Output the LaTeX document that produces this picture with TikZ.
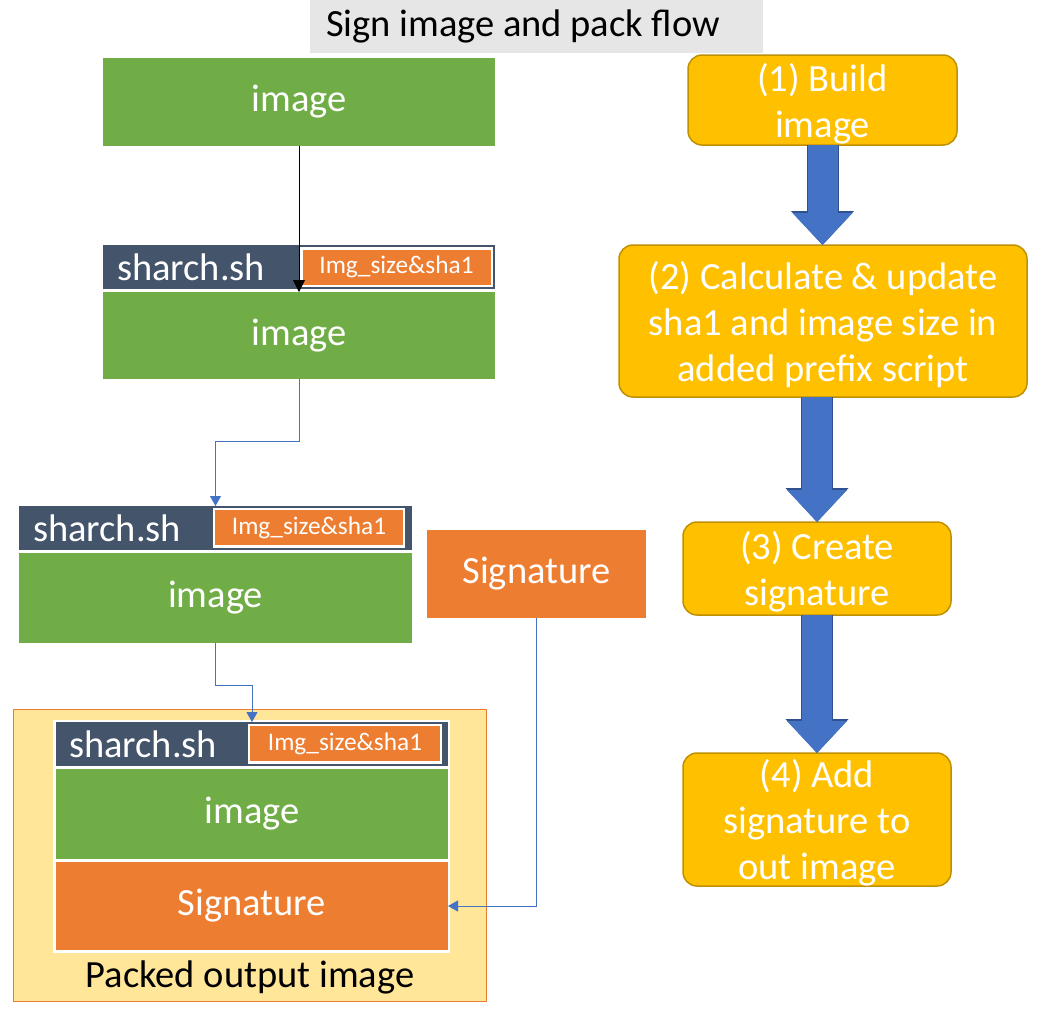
\documentclass[tikz,border=0pt]{standalone}
\usepackage{fontspec}
\setmainfont{Carlito}
\usetikzlibrary{arrows.meta,calc}
\definecolor{imggreen}{HTML}{70AD47}
\definecolor{sigorange}{HTML}{ED7D31}
\definecolor{shslate}{HTML}{44546A}
\definecolor{stepyellow}{HTML}{FFC000}
\definecolor{stepedge}{HTML}{BF9000}
\definecolor{flowblue}{HTML}{4472C4}
\definecolor{flowedge}{HTML}{2F528F}
\definecolor{packfill}{HTML}{FFE699}
\definecolor{titlegrey}{HTML}{E7E6E6}

\begin{document}
\begin{tikzpicture}[x=1pt, y=-1pt,
		blk/.style={inner sep=0pt, outer sep=0pt, text=white, font=\fontsize{38.5}{46}\selectfont},
		imgbox/.style={blk, fill=imggreen, minimum width=392pt, minimum height=88pt},
		shbar/.style={blk, fill=shslate, minimum width=392pt, minimum height=44pt},
		shtext/.style={blk, anchor=west},
		tagbox/.style={blk, fill=sigorange, draw=white, line width=2.5pt, minimum width=190pt, minimum height=37.5pt, font=\fontsize{25.3}{28}\selectfont},
		sigbox/.style={blk, fill=sigorange, minimum height=88pt},
		stepbox/.style={blk, fill=stepyellow, draw=stepedge, line width=1.5pt, rounded corners=14pt, align=center, text depth=0pt},
		conn/.style={draw=flowblue, line width=0.8pt, -{Triangle[width=11pt,length=10pt]}},
		bigedge/.style={draw=flowedge, line width=32pt, -{Triangle[width=63pt,length=34pt,line width=0pt]}},
		bigarrow/.style={draw=flowblue, line width=30pt, -{Triangle[width=60pt,length=32pt,line width=0pt]}}
	]
			%%%%% START %%%%%
			\useasboundingbox (0,0) rectangle (1060,1010);
			
			\node[blk, fill=titlegrey, minimum width=453pt, minimum height=53pt] (title) at (536.5,26.5) {};
			\node[blk, text=black, anchor=west] (titlet) at (326,26.5) {Sign image and pack flow};
			
			% left column
			\node[imgbox] (img1) at (299,102) {image};
			
			\node[shbar] (sh1) at (299,267) {};
			\node[shtext] (sh1t) at ([xshift=14pt]sh1.west) {sharch.sh};
			\node[tagbox, minimum width=190.5pt] (tag1) at (396.5,267) {Img\_size\&sha1};
			\node[imgbox, minimum height=87pt] (img2) at (299,335.5) {image};
			
			\node[shbar, minimum width=393pt] (sh2) at (215.5,528) {};
			\node[shtext] (sh2t) at ([xshift=14pt]sh2.west) {sharch.sh};
			\node[tagbox] (tag2) at (309,527.5) {Img\_size\&sha1};
			\node[imgbox, minimum width=393pt, minimum height=90pt] (img3) at (215.5,598) {image};
			
			\node[sigbox, minimum width=219pt] (sig1) at (536.5,574) {Signature};
			
			% packed output
			\node[blk, fill=packfill, draw=sigorange, line width=0.8pt, minimum width=473pt, minimum height=292pt] (pack) at (249.5,855) {};
			\node[blk, fill=white, minimum width=397pt, minimum height=233pt] (frame) at (251.5,836.5) {};
			\node[shbar] (sh3) at (252,744) {};
			\node[shtext] (sh3t) at ([xshift=13pt]sh3.west) {sharch.sh};
			\node[tagbox, minimum width=192pt] (tag3) at (345,743.5) {Img\_size\&sha1};
			\node[imgbox, minimum height=90pt] (img4) at (252,814) {image};
			\node[sigbox, minimum width=392pt] (sig2) at (252,906) {Signature};
			\node[blk, text=black] (packlbl) at (250,977) {Packed output image};
			
			\draw[line width=0.9pt, -{Triangle[width=12pt,length=12pt]}] (img1.south) -- (img2.north);
			\draw[conn] (img2.south) -- ++(0,62) -| (sh2.north);
			\draw[conn] (img3.south) -- ++(0,42) -| (sh3.north);
			\draw[conn] (sig1.south) |- (sig2.east);
			
			% right column
			\node[stepbox, minimum width=269pt, minimum height=90pt] (s1) at (822.5,100) {(1) Build\\image};
			\node[stepbox, minimum width=408pt, minimum height=152pt] (s2) at (823,321) {(2) Calculate \& update\\sha1 and image size in\\added prefix script};
			\node[stepbox, minimum width=268pt, minimum height=93pt] (s3) at (817,568.5) {(3) Create\\signature};
			\node[stepbox, minimum width=268pt, minimum height=133pt] (s4) at (817,819.5) {(4) Add\\signature to\\out image};
			
			\draw[bigedge] (s1.south) -- (s1.south |- s2.north);
			\draw[bigarrow] (s1.south) -- (s1.south |- s2.north);
			\draw[bigedge] (s3.north |- s2.south) -- (s3.north);
			\draw[bigarrow] (s3.north |- s2.south) -- (s3.north);
			\draw[bigedge] (s3.south) -- (s4.north);
			\draw[bigarrow] (s3.south) -- (s4.north);
			
			%%%%% END %%%%%
\end{tikzpicture}
\end{document}
